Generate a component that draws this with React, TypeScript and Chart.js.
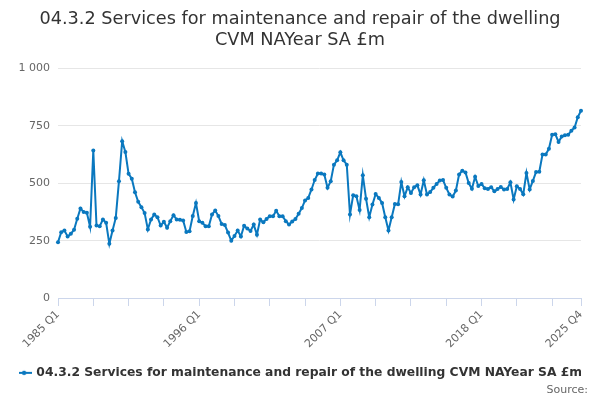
import React, { useEffect, useRef } from "react";
import { Chart, registerables } from "chart.js";

Chart.register(...registerables);

const startYear = 1985;
const endYear = 2025;
const quarterNames = ["Q1", "Q2", "Q3", "Q4"];

const values: number[] = [
  243, 287, 294, 268, 280, 297, 345, 390, 375, 371,
  310, 643, 316, 313, 342, 328, 236, 294, 349, 509,
  683, 636, 541, 520, 461, 419, 396, 370, 299, 342,
  364, 352, 316, 332, 306, 335, 361, 342, 341, 338,
  288, 291, 357, 414, 335, 328, 313, 313, 364, 381,
  357, 323, 318, 285, 250, 270, 294, 268, 315, 303,
  292, 320, 276, 342, 330, 344, 356, 356, 380, 356,
  356, 335, 320, 333, 344, 367, 392, 425, 436, 473,
  514, 542, 542, 538, 480, 509, 581, 600, 635, 600,
  581, 364, 448, 443, 383, 535, 433, 352, 407, 453,
  436, 414, 352, 294, 352, 410, 408, 505, 443, 483,
  458, 483, 491, 451, 513, 451, 462, 480, 497, 512,
  514, 480, 451, 442, 468, 538, 555, 547, 501, 476,
  528, 488, 497, 478, 475, 483, 465, 475, 484, 473,
  475, 504, 429, 487, 475, 452, 545, 473, 510, 549,
  550, 625, 625, 650, 711, 714, 680, 704, 709, 711,
  729, 743, 788, 816,
];

const labels: string[] = [];
for (let y = startYear; y <= endYear; y++) {
  for (const q of quarterNames) labels.push(`${y} ${q}`);
}

const yTicks = [0, 250, 500, 750, 1000];
const seriesName = "04.3.2 Services for maintenance and repair of the dwelling CVM NAYear SA £m";
const titleLines = ["04.3.2 Services for maintenance and repair of the dwelling", "CVM NAYear SA £m"];
const sourceText = "Source:";
const lineColor = "#0a78bf";
const FONT = "'DejaVu Sans', sans-serif";

function makeLegendSymbol(): HTMLCanvasElement {
  const c = document.createElement("canvas");
  c.width = 16;
  c.height = 8;
  const ctx = c.getContext("2d")!;
  ctx.strokeStyle = lineColor;
  ctx.lineWidth = 2;
  ctx.beginPath();
  ctx.moveTo(0, 4);
  ctx.lineTo(16, 4);
  ctx.stroke();
  ctx.fillStyle = lineColor;
  ctx.beginPath();
  ctx.arc(8, 4, 2.2, 0, Math.PI * 2);
  ctx.fill();
  return c;
}

export default function App() {
  const ref = useRef<HTMLCanvasElement | null>(null);

  useEffect(() => {
    document.body.style.margin = "0";
    if (!ref.current) return;
    const symbol = makeLegendSymbol();
    const last = labels.length - 1;
    const chart = new Chart(ref.current, {
      type: "line",
      data: {
        labels,
        datasets: [
          {
            label: seriesName,
            data: values,
            borderColor: lineColor,
            backgroundColor: lineColor,
            borderWidth: 2,
            pointRadius: 2,
            pointHoverRadius: 3,
            pointBackgroundColor: lineColor,
            pointBorderWidth: 0,
            pointStyle: "circle",
            tension: 0,
          },
        ],
      },
      options: {
        responsive: false,
        animation: false,
        maintainAspectRatio: false,
        layout: { padding: { left: 19, right: 19, top: 9, bottom: 11 } },
        scales: {
          x: {
            type: "category",
            offset: false,
            border: { color: "#ccd6eb", width: 1 },
            grid: {
              drawOnChartArea: false,
              drawTicks: true,
              tickLength: 8,
              color: "#ccd6eb",
            },
            afterBuildTicks: (axis: any) => {
              axis.ticks = axis.ticks.filter((t: any) => t.value % 11 === 0 || t.value === last);
            },
            afterFit: (scale: any) => {
              scale.height += 12;
            },
            ticks: {
              autoSkip: false,
              maxRotation: 45,
              minRotation: 45,
              color: "#666666",
              font: { family: FONT, size: 11 },
              padding: 2,
              callback: (v: any) => {
                const i = Number(v);
                return i % 44 === 0 || i === last ? labels[i] : "";
              },
            },
          },
          y: {
            min: 0,
            max: 1000,
            border: { display: false },
            grid: { color: "#e6e6e6", drawTicks: false },
            afterBuildTicks: (axis: any) => {
              axis.ticks = yTicks.map((v) => ({ value: v }));
            },
            afterFit: (scale: any) => {
              scale.width = 39;
            },
            ticks: {
              color: "#666666",
              font: { family: FONT, size: 11 },
              padding: 8,
              callback: (v: any) => {
                const n = Number(v);
                return n >= 1000 ? String(n).replace(/\B(?=(\d{3})+(?!\d))/g, " ") : String(n);
              },
            },
          },
        },
        plugins: {
          title: {
            display: true,
            text: titleLines,
            color: "#333333",
            font: { family: FONT, size: 17.7, weight: "normal" },
            padding: { top: 0, bottom: 17 },
          },
          legend: {
            display: true,
            position: "bottom",
            labels: {
              usePointStyle: true,
              pointStyle: symbol as any,
              color: "#333333",
              font: { family: FONT, size: 12.3, weight: "bold" },
              padding: 2,
              boxWidth: 16,
            },
          },
          tooltip: { enabled: false },
        },
      },
    });
    return () => chart.destroy();
  }, []);

  return (
    <div style={{ position: "relative", width: 600, height: 400 }}>
      <canvas ref={ref} width={600} height={400} style={{ width: 600, height: 400, display: "block" }} />
      <div
        style={{
          position: "absolute",
          right: 12,
          top: 383,
          fontFamily: FONT,
          fontSize: 11,
          lineHeight: "14px",
          color: "#666666",
        }}
      >
        {sourceText}
      </div>
    </div>
  );
}
